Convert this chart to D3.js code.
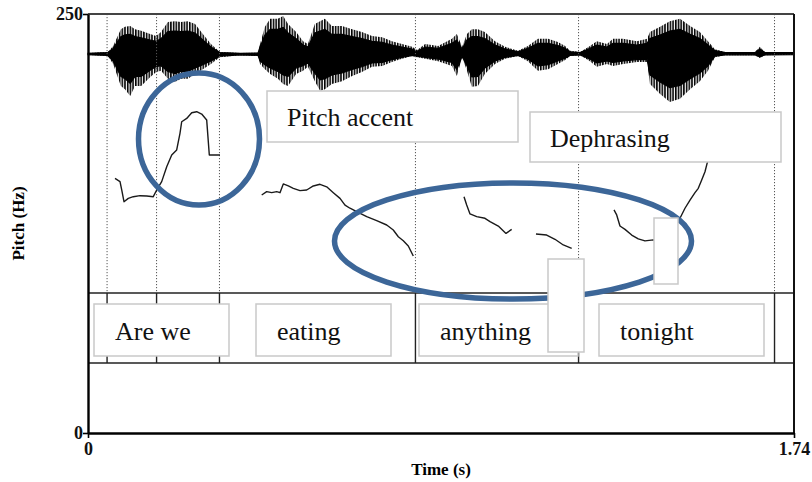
<!DOCTYPE html>
<html>
<head>
<meta charset="utf-8">
<script src="https://cdn.jsdelivr.net/npm/d3@7"></script>
<style>
  html, body { margin: 0; padding: 0; background: #fff; }
  svg { display: block; }
  text { font-family: "Liberation Serif", "Times New Roman", serif; }
</style>
</head>
<body>
<svg id="chart" width="812" height="482"></svg>
<script>
// ---- Data -----------------------------------------------------------------

// Time axis range (s) and pitch axis range (Hz)
const timeDomain = [0, 1.74];
const pitchDomain = [0, 250];
const timeTicks = [0, 1.74];
const pitchTicks = [0, 250];

// Waveform envelope: time (s), upper and lower amplitude (relative)
const waveTime  = [0, 0.049, 0.062, 0.081, 0.091, 0.104, 0.116, 0.131, 0.153, 0.168, 0.180, 0.197, 0.214, 0.229, 0.246, 0.264, 0.283, 0.303, 0.325, 0.375, 0.419, 0.424, 0.436, 0.449, 0.468, 0.481, 0.493, 0.513, 0.530, 0.542, 0.559, 0.572, 0.584, 0.601, 0.626, 0.651, 0.675, 0.700, 0.725, 0.749, 0.774, 0.799, 0.811, 0.831, 0.863, 0.897, 0.909, 0.922, 0.934, 0.946, 0.961, 0.978, 1.003, 1.028, 1.060, 1.084, 1.109, 1.134, 1.158, 1.176, 1.188, 1.213, 1.237, 1.254, 1.279, 1.294, 1.319, 1.353, 1.378, 1.385, 1.410, 1.434, 1.459, 1.484, 1.508, 1.528, 1.545, 1.570, 1.644, 1.656, 1.668, 1.740];
const waveUpper = [0.025, 0.05, 0.20, 0.62, 0.68, 0.70, 0.62, 0.58, 0.50, 0.45, 0.55, 0.80, 0.82, 0.80, 0.82, 0.75, 0.50, 0.25, 0.05, 0.025, 0.03, 0.25, 0.68, 0.88, 0.88, 0.95, 0.75, 0.55, 0.32, 0.25, 0.75, 0.82, 0.88, 0.70, 0.70, 0.62, 0.55, 0.45, 0.42, 0.32, 0.25, 0.18, 0.10, 0.25, 0.20, 0.38, 0.50, 0.18, 0.50, 0.62, 0.62, 0.55, 0.32, 0.18, 0.08, 0.20, 0.38, 0.38, 0.30, 0.20, 0.08, 0.05, 0.20, 0.32, 0.25, 0.38, 0.38, 0.32, 0.38, 0.55, 0.68, 0.82, 0.88, 0.70, 0.55, 0.32, 0.12, 0.05, 0.05, 0.18, 0.05, 0.05];
const waveLower = [-0.025, -0.05, -0.25, -0.80, -0.88, -1.05, -0.80, -0.80, -0.58, -0.45, -0.42, -0.62, -0.70, -0.62, -0.62, -0.50, -0.38, -0.25, -0.08, -0.03, -0.05, -0.25, -0.38, -0.50, -0.62, -0.75, -0.80, -0.50, -0.42, -0.32, -0.68, -0.92, -0.88, -0.75, -0.68, -0.55, -0.45, -0.32, -0.30, -0.20, -0.12, -0.05, -0.08, -0.12, -0.18, -0.30, -0.55, -0.08, -0.42, -0.82, -0.80, -0.50, -0.25, -0.12, -0.05, -0.18, -0.42, -0.38, -0.25, -0.15, -0.05, -0.03, -0.18, -0.32, -0.25, -0.30, -0.25, -0.20, -0.20, -0.75, -1.00, -1.20, -1.12, -0.88, -0.68, -0.42, -0.08, -0.03, -0.03, -0.10, -0.03, -0.02];

// Pitch track (Hz), voiced stretches as [time, f0]
const pitchSegments = [
  [[0.0665,151.9],[0.0789,150.0],[0.0831,145.0],[0.0887,138.0],[0.0993,140.0],[0.1116,141.0],[0.1282,141.6],[0.1447,141.4],[0.1609,141.0],[0.1693,145.0],[0.1816,150.0],[0.1940,158.9],[0.2063,165.9],[0.2186,168.9],[0.2267,178.8],[0.2309,185.7],[0.2433,187.7],[0.2556,191.1],[0.2679,191.7],[0.2802,190.3],[0.2925,186.8],[0.2990,165.9],[0.3253,165.9]],
  [[0.4281,142.0],[0.4404,144.0],[0.4527,143.4],[0.4651,144.0],[0.4732,143.4],[0.4813,148.6],[0.4937,147.4],[0.5060,146.0],[0.5225,144.6],[0.5390,145.0],[0.5553,147.4],[0.5718,148.4],[0.5883,146.9],[0.6046,143.4],[0.6211,140.0],[0.6334,136.0],[0.6457,134.1],[0.6622,132.1],[0.6869,129.1],[0.7115,126.7],[0.7362,124.1],[0.7524,121.1],[0.7648,117.1],[0.7771,114.7],[0.7894,111.6],[0.8017,105.6]],
  [[0.9267,141.0],[0.9333,136.0],[0.9415,130.7],[0.9580,129.1],[0.9784,128.1],[0.9908,126.1],[1.0112,123.5],[1.0302,119.1],[1.0442,121.5]],
  [[1.1041,118.7],[1.1305,118.1],[1.1509,115.6],[1.1714,112.2],[1.1921,110.2]],
  [[1.2964,133.1],[1.3030,130.1],[1.3111,123.5],[1.3235,121.5],[1.3400,118.1],[1.3562,115.8],[1.3728,114.6],[1.3932,115.2],[1.4147,114.6],[1.4393,120.0],[1.4590,128.1],[1.4713,134.1],[1.4837,139.0],[1.4960,143.4],[1.5041,146.0],[1.5125,151.0],[1.5206,155.9],[1.5263,161.3],[1.5330,170.0]]
];

// Interval tier: boundary times (s) and word labels
const boundaries = [0.047, 0.169, 0.324, 0.807, 1.209, 1.692];
const words = ["Are we", "eating", "anything", "tonight"];
const notes = ["Pitch accent", "Dephrasing"];

// ---- Layout ---------------------------------------------------------------
const frame = { left: 88, right: 794, top: 14, bottom: 433 };
const tier = { top: 293, bottom: 363 };
const wave = { top: 14, bottom: 94, mid: 54 };
const blue = "#3c6698";
const boxStroke = "#c9c9c9";

// word label boxes: [x, width]
const wordBoxes = [[94, 135], [256, 135], [419, 159], [599, 165]];
const wordBoxY = 304, wordBoxH = 52;
// annotation boxes: [x, y, w, h, textX, baseline]
const noteBoxes = [[267, 91, 251, 51, 287, 126], [530, 112, 251, 50, 550, 147]];
// ellipses: [cx, cy, rx, ry]
const ellipses = [[199, 139, 60.5, 66], [513, 241, 178.5, 58]];
// plain white boxes: [x, y, w, h]
const blankBoxes = [[548, 259, 36, 93], [654, 218, 24, 66]];

// ---- Scales ---------------------------------------------------------------
const svg = d3.select("#chart");
const x = d3.scaleLinear().domain(timeDomain).range([frame.left, frame.right]);
const y = d3.scaleLinear().domain(pitchDomain).range([frame.bottom, frame.top]);
const yWave = d3.scaleLinear().domain([-1, 1]).range([wave.bottom, wave.top]);
// dense core of the signal is drawn solid, the outer peaks as a comb of pulses
const coreSpan = 40 * 0.7;
const yWaveCore = d3.scaleLinear().domain([-1, 1]).range([wave.mid + coreSpan, wave.mid - coreSpan]);

// ---- Waveform -------------------------------------------------------------
const defs = svg.append("defs");
const pat = defs.append("pattern")
  .attr("id", "pulses").attr("patternUnits", "userSpaceOnUse")
  .attr("width", 2.7).attr("height", 20);
pat.append("rect").attr("x", 0).attr("y", 0).attr("width", 1.6).attr("height", 20).attr("fill", "#000");

const waveData = waveTime.map((t, i) => ({ t, hi: waveUpper[i], lo: waveLower[i] }));
svg.append("path")
  .datum(waveData)
  .attr("d", d3.area().x(d => x(d.t)).y0(d => yWave(d.lo)).y1(d => yWave(d.hi)))
  .attr("fill", "url(#pulses)");
svg.append("path")
  .datum(waveData)
  .attr("d", d3.area().x(d => x(d.t)).y0(d => yWaveCore(d.lo)).y1(d => yWaveCore(d.hi)))
  .attr("fill", "#000")
  .attr("stroke", "#000")
  .attr("stroke-width", 1.2);

// ---- Dotted boundary lines through the signal area -----------------------
svg.append("g").selectAll("line")
  .data(boundaries)
  .join("line")
  .attr("x1", d => x(d)).attr("x2", d => x(d))
  .attr("y1", frame.top).attr("y2", tier.top)
  .attr("stroke", "#555")
  .attr("stroke-width", 1)
  .attr("stroke-dasharray", "1.2,1.8");

// ---- Pitch contour --------------------------------------------------------
const line = d3.line().x(d => x(d[0])).y(d => y(d[1]));
svg.append("g").selectAll("path")
  .data(pitchSegments)
  .join("path")
  .attr("d", line)
  .attr("fill", "none")
  .attr("stroke", "#1a1a1a")
  .attr("stroke-width", 1.4)
  .attr("stroke-linejoin", "round");

// ---- Interval tier --------------------------------------------------------
svg.append("g").selectAll("line")
  .data(boundaries)
  .join("line")
  .attr("x1", d => x(d)).attr("x2", d => x(d))
  .attr("y1", tier.top).attr("y2", tier.bottom)
  .attr("stroke", "#222")
  .attr("stroke-width", 1.4);
[tier.top, tier.bottom].forEach(v => {
  svg.append("line")
    .attr("x1", frame.left).attr("x2", frame.right)
    .attr("y1", v).attr("y2", v)
    .attr("stroke", "#222").attr("stroke-width", 1.6);
});

const wordG = svg.append("g").selectAll("g").data(words).join("g");
wordG.append("rect")
  .attr("x", (d, i) => wordBoxes[i][0]).attr("y", wordBoxY)
  .attr("width", (d, i) => wordBoxes[i][1]).attr("height", wordBoxH)
  .attr("fill", "#fff").attr("stroke", boxStroke).attr("stroke-width", 1.5);
wordG.append("text")
  .attr("x", (d, i) => wordBoxes[i][0] + 21).attr("y", 340)
  .attr("font-size", 26).attr("fill", "#111")
  .text(d => d);

// ---- Frame and axes -------------------------------------------------------
svg.append("line").attr("x1", frame.left).attr("x2", frame.right)
  .attr("y1", frame.top).attr("y2", frame.top)
  .attr("stroke", "#444").attr("stroke-width", 2);
svg.append("line").attr("x1", frame.right).attr("x2", frame.right)
  .attr("y1", frame.top).attr("y2", frame.bottom)
  .attr("stroke", "#111").attr("stroke-width", 2);

const yAxis = svg.append("g")
  .attr("transform", `translate(${frame.left},0)`)
  .call(d3.axisLeft(y).tickValues(pitchTicks).tickSize(5).tickSizeOuter(0).tickFormat(d3.format("d")));
const xAxis = svg.append("g")
  .attr("transform", `translate(0,${frame.bottom})`)
  .call(d3.axisBottom(x).tickValues(timeTicks).tickSize(5).tickSizeOuter(0).tickFormat(d => d === 0 ? "0" : d3.format(".2f")(d)));
[yAxis, xAxis].forEach(g => {
  g.select(".domain").attr("stroke", "#000").attr("stroke-width", 2.4);
  g.selectAll(".tick line").attr("stroke", "#000").attr("stroke-width", 1.6);
  g.selectAll(".tick text")
    .attr("font-family", "Liberation Serif, serif")
    .attr("font-weight", "bold").attr("font-size", 18).attr("fill", "#111");
});
yAxis.selectAll(".tick text").attr("x", -5);
xAxis.selectAll(".tick text").attr("y", 9);

svg.append("text")
  .attr("x", (frame.left + frame.right) / 2).attr("y", 475)
  .attr("text-anchor", "middle").attr("font-weight", "bold").attr("font-size", 17)
  .text("Time (s)");
svg.append("text")
  .attr("transform", `translate(24,${(frame.top + frame.bottom) / 2}) rotate(-90)`)
  .attr("text-anchor", "middle").attr("font-weight", "bold").attr("font-size", 17)
  .text("Pitch (Hz)");

// ---- Annotations ----------------------------------------------------------
svg.append("g").selectAll("ellipse")
  .data(ellipses)
  .join("ellipse")
  .attr("cx", d => d[0]).attr("cy", d => d[1])
  .attr("rx", d => d[2]).attr("ry", d => d[3])
  .attr("fill", "none").attr("stroke", blue).attr("stroke-width", 5.5);

const noteG = svg.append("g").selectAll("g").data(notes).join("g");
noteG.append("rect")
  .attr("x", (d, i) => noteBoxes[i][0]).attr("y", (d, i) => noteBoxes[i][1])
  .attr("width", (d, i) => noteBoxes[i][2]).attr("height", (d, i) => noteBoxes[i][3])
  .attr("fill", "#fff").attr("stroke", boxStroke).attr("stroke-width", 1.5);
noteG.append("text")
  .attr("x", (d, i) => noteBoxes[i][4]).attr("y", (d, i) => noteBoxes[i][5])
  .attr("font-size", 26).attr("fill", "#111")
  .text(d => d);

svg.append("g").selectAll("rect")
  .data(blankBoxes)
  .join("rect")
  .attr("x", d => d[0]).attr("y", d => d[1])
  .attr("width", d => d[2]).attr("height", d => d[3])
  .attr("fill", "#fff").attr("stroke", boxStroke).attr("stroke-width", 1.5);
</script>
</body>
</html>
